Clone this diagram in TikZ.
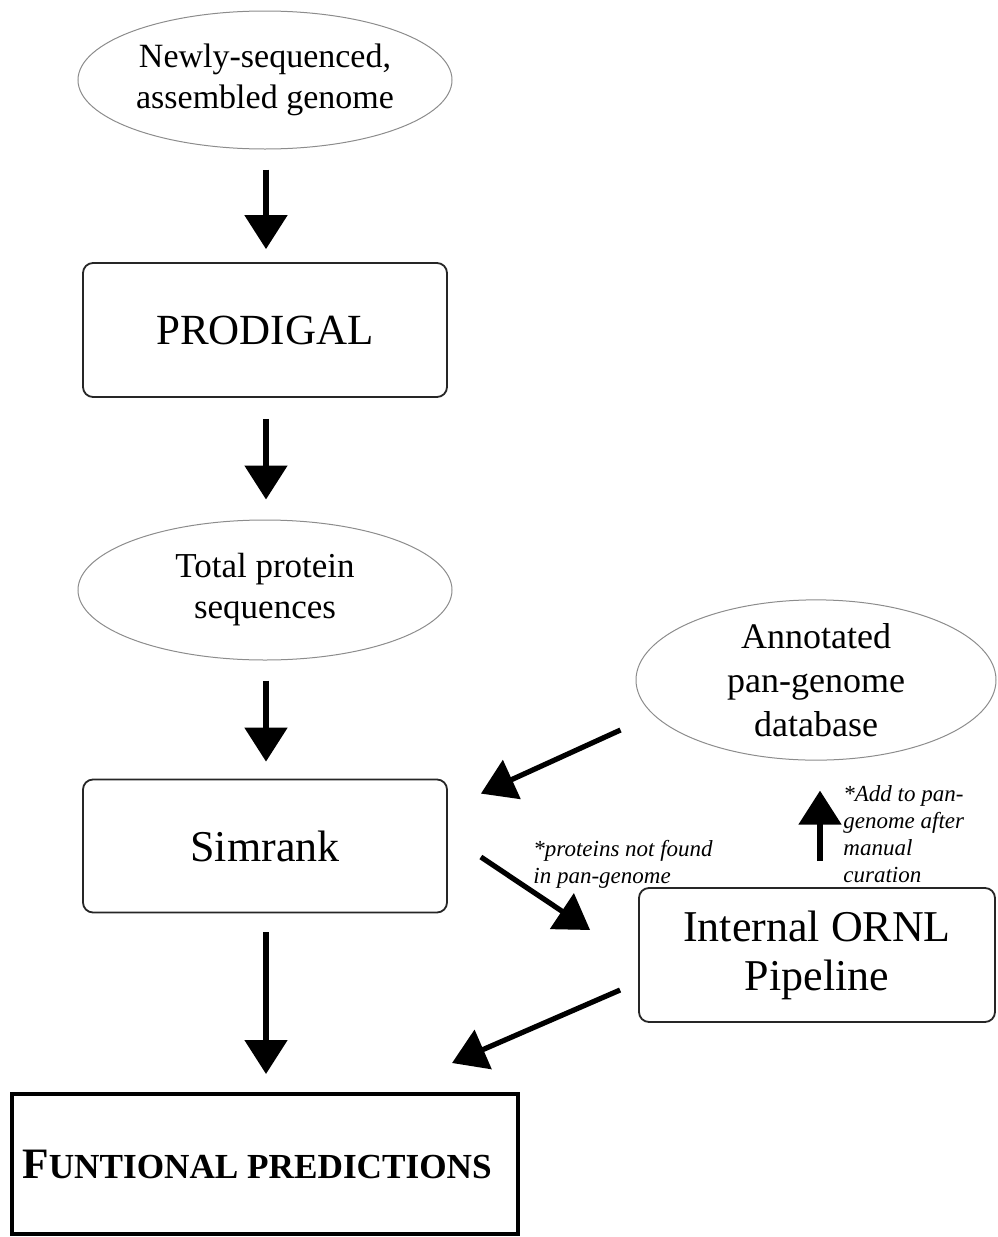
\documentclass[tikz,border=0pt]{standalone}
\usepackage{fontspec}
\setmainfont{Liberation Serif}
\usetikzlibrary{shapes.geometric,arrows.meta,calc}
\begin{document}
\begin{tikzpicture}[x=0.5pt,y=-0.5pt,
  oval/.style={ellipse,draw=black!45,line width=0.5pt,inner sep=0pt,align=center},
  rbox/.style={rectangle,rounded corners=5pt,draw=black!85,line width=0.9pt,inner sep=0pt,align=center},
  arr/.style={line width=2.6pt,-{Triangle[width=21pt,length=17pt]}},
  note/.style={font=\fontsize{11.5}{13.6}\selectfont\itshape,align=left,inner sep=0pt,anchor=north west}]
\useasboundingbox (0,0) rectangle (997,1237);

\node[oval,minimum width=187pt,minimum height=69pt,font=\fontsize{17}{20.5}\selectfont] (g) at (265,80) {Newly-sequenced,\\assembled genome};
\node[rbox,minimum width=182pt,minimum height=67pt,font=\fontsize{21.5}{25}\selectfont] (p) at (265,330) {PRODIGAL};
\node[oval,minimum width=187pt,minimum height=70pt,font=\fontsize{17.5}{20.5}\selectfont] (t) at (265,590) {Total protein\\sequences};
\node[rbox,minimum width=182pt,minimum height=66.5pt,font=\fontsize{22}{25}\selectfont] (s) at (265,846) {Simrank};
\node[rectangle,draw=black,line width=2pt,minimum width=253pt,minimum height=70pt,inner sep=0pt] (f) at (265,1164)
  {\bfseries\fontsize{21.7}{24}\selectfont F\fontsize{17.6}{20}\selectfont UNTIONAL PREDICTIONS\hspace*{8pt}};
\node[oval,minimum width=180pt,minimum height=72pt,font=\fontsize{18}{22}\selectfont] (a) at (816,680) {Annotated\\pan-genome\\database};
\node[rbox,minimum width=178pt,minimum height=67pt,font=\fontsize{22}{24.5}\selectfont] (i) at (817,955) {Internal ORNL\\Pipeline};

\node[note] (n1) at (533,840) {*proteins not found\\in pan-genome};
\node[note] (n2) at (843,785) {*Add to pan-\\genome after\\manual\\curation};

\draw[arr] ($(g.south)+(1,20)$) -- ($(p.north)+(1,-13)$);
\draw[arr] ($(p.south)+(1,21)$) -- ($(t.north)+(1,-20)$);
\draw[arr] ($(t.south)+(1,20)$) -- ($(s.north)+(1,-17)$);
\draw[arr] ($(s.south)+(1,19)$) -- ($(f.north)+(1,-18)$);
\draw[arr] ($(a.west)+(-15,50)$) -- ($(s.north east)+(33,15)$);
\draw[arr] ($(s.east)+(33,11)$) -- ($(i.west)+(-48,-25)$);
\draw[arr] ($(i.north)+(3,-26)$) -- ($(a.south)+(4,30)$);
\draw[arr] ($(i.west)+(-18,35)$) -- ($(f.north east)+(-68,-29)$);
\end{tikzpicture}
\end{document}
